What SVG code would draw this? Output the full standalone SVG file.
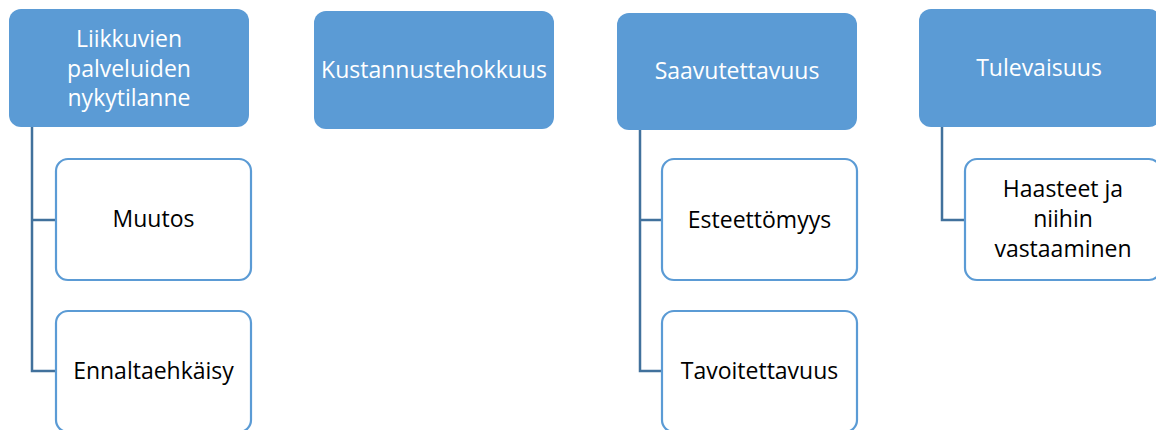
<svg xmlns="http://www.w3.org/2000/svg" width="1156" height="430" viewBox="0 0 1156 430">
<style>
.p{fill:#5B9BD5;}
.c{fill:#FFFFFF;stroke:#5B9BD5;stroke-width:2.2;}
.t{font-family:"Open Sans","Liberation Sans",sans-serif;font-size:23px;text-anchor:middle;}
.w{fill:#FFFFFF;}
.k{fill:#000000;}
.l{fill:none;stroke:#41719C;stroke-width:2.5;}
</style>
<rect width="1156" height="430" fill="#FFFFFF"/>
<g id="connectors">
<polyline class="l" points="32,127 32,371 56,371"/>
<line class="l" x1="32" y1="220" x2="56" y2="220"/>
<polyline class="l" points="640,130 640,371 662,371"/>
<line class="l" x1="640" y1="220" x2="662" y2="220"/>
<polyline class="l" points="942,127 942,220 965,220"/>
</g>
<g id="n1">
<rect class="p" x="9" y="9" width="240" height="118" rx="12"/>
<text class="t w" x="129" y="47">Liikkuvien</text>
<text class="t w" x="129" y="77">palveluiden</text>
<text class="t w" x="129" y="106">nykytilanne</text>
</g>
<g id="n2">
<rect class="p" x="314" y="11" width="240" height="118" rx="12"/>
<text class="t w" x="434" y="78">Kustannustehokkuus</text>
</g>
<g id="n3">
<rect class="p" x="617" y="13" width="240" height="117" rx="12"/>
<text class="t w" x="737" y="79">Saavutettavuus</text>
</g>
<g id="n4">
<rect class="p" x="919" y="9" width="242" height="118" rx="12"/>
<text class="t w" x="1039" y="76">Tulevaisuus</text>
</g>
<g id="n5">
<rect class="c" x="56" y="159" width="195" height="121" rx="12"/>
<text class="t k" x="153.5" y="227">Muutos</text>
</g>
<g id="n6">
<rect class="c" x="56" y="311" width="195" height="121" rx="12"/>
<text class="t k" x="153.5" y="379">Ennaltaehkäisy</text>
</g>
<g id="n7">
<rect class="c" x="662" y="159" width="195" height="121" rx="12"/>
<text class="t k" x="759.5" y="228">Esteettömyys</text>
</g>
<g id="n8">
<rect class="c" x="662" y="311" width="195" height="121" rx="12"/>
<text class="t k" x="759.5" y="379">Tavoitettavuus</text>
</g>
<g id="n9">
<rect class="c" x="965" y="159" width="196" height="121" rx="12"/>
<text class="t k" x="1063" y="197">Haasteet ja</text>
<text class="t k" x="1063" y="227">niihin</text>
<text class="t k" x="1063" y="257">vastaaminen</text>
</g>
</svg>
